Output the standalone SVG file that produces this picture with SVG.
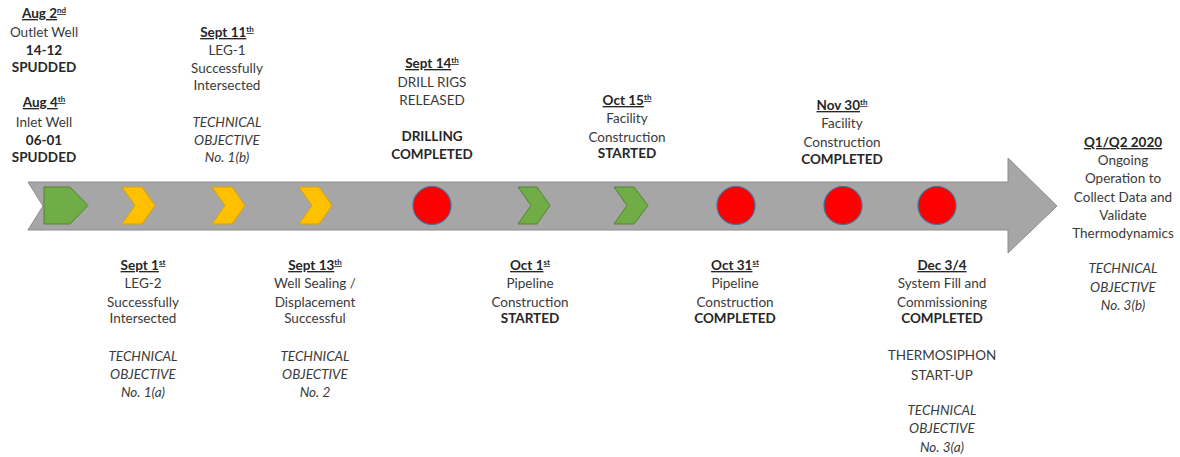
<svg xmlns="http://www.w3.org/2000/svg" width="1180" height="457" viewBox="0 0 1180 457">
<style>
text{font-family:Lato,"Liberation Sans",sans-serif;font-size:13.5px;fill:#3a3a3a;text-anchor:middle}
.b{font-weight:bold;fill:#262626}
.d{font-weight:bold;text-decoration:underline;fill:#262626}
.i{font-style:italic}
.sup{font-size:8px;baseline-shift:super}
.green{fill:#70ad47;stroke:#548235;stroke-width:1}
.yellow{fill:#ffc000;stroke:#d9a300;stroke-width:1}
.red{fill:#ff0000;stroke:#41719c;stroke-width:1.2}
</style>
<rect width="1180" height="457" fill="#ffffff"/>
<g id="connectors">
<polygon points="28,182 1008,182 1008,158 1057,206 1008,253 1008,230 28,230 43,206" fill="#a6a6a6" stroke="#8c8c8c" stroke-width="1"/>
</g>
<g id="aug2">
<polygon class="green" points="44,187 70,187 88,205.5 70,224 44,224"/>
<text x="44" y="18" class="d">Aug 2<tspan class="sup">nd</tspan></text>
<text x="44" y="37">Outlet Well</text>
<text x="44" y="55" class="b">14-12</text>
<text x="44" y="72" class="b">SPUDDED</text>
<text x="44" y="107" class="d">Aug 4<tspan class="sup">th</tspan></text>
<text x="44" y="127">Inlet Well</text>
<text x="44" y="145" class="b">06-01</text>
<text x="44" y="162" class="b">SPUDDED</text>
</g>
<g id="sept1">
<polygon class="yellow" points="122,187 142,187 155,205.5 142,224 122,224 135,205.5"/>
<text x="143" y="270" class="d">Sept 1<tspan class="sup">st</tspan></text>
<text x="143" y="288">LEG-2</text>
<text x="143" y="307">Successfully</text>
<text x="143" y="323">Intersected</text>
<text x="143" y="361" class="i">TECHNICAL</text>
<text x="143" y="379" class="i">OBJECTIVE</text>
<text x="143" y="397" class="i">No. 1(a)</text>
</g>
<g id="sept11">
<polygon class="yellow" points="212,187 232,187 245,205.5 232,224 212,224 225,205.5"/>
<text x="227" y="37" class="d">Sept 11<tspan class="sup">th</tspan></text>
<text x="227" y="55">LEG-1</text>
<text x="227" y="73">Successfully</text>
<text x="227" y="90">Intersected</text>
<text x="227" y="127" class="i">TECHNICAL</text>
<text x="227" y="145" class="i">OBJECTIVE</text>
<text x="227" y="162" class="i">No. 1(b)</text>
</g>
<g id="sept13">
<polygon class="yellow" points="299,187 319,187 332,205.5 319,224 299,224 312,205.5"/>
<text x="315" y="270" class="d">Sept 13<tspan class="sup">th</tspan></text>
<text x="315" y="288">Well Sealing /</text>
<text x="315" y="307">Displacement</text>
<text x="315" y="323">Successful</text>
<text x="315" y="361" class="i">TECHNICAL</text>
<text x="315" y="379" class="i">OBJECTIVE</text>
<text x="315" y="397" class="i">No. 2</text>
</g>
<g id="sept14">
<circle class="red" cx="432" cy="205.5" r="19"/>
<text x="432" y="68" class="d">Sept 14<tspan class="sup">th</tspan></text>
<text x="432" y="87">DRILL RIGS</text>
<text x="432" y="105">RELEASED</text>
<text x="432" y="141" class="b">DRILLING</text>
<text x="432" y="159" class="b">COMPLETED</text>
</g>
<g id="oct1">
<polygon class="green" points="518,187 537,187 550,205.5 537,224 518,224 531,205.5"/>
<text x="530" y="270" class="d">Oct 1<tspan class="sup">st</tspan></text>
<text x="530" y="288">Pipeline</text>
<text x="530" y="307">Construction</text>
<text x="530" y="323" class="b">STARTED</text>
</g>
<g id="oct15">
<polygon class="green" points="614,187 634,187 648,205.5 634,224 614,224 627,205.5"/>
<text x="627" y="105" class="d">Oct 15<tspan class="sup">th</tspan></text>
<text x="627" y="123">Facility</text>
<text x="627" y="142">Construction</text>
<text x="627" y="158" class="b">STARTED</text>
</g>
<g id="oct31">
<circle class="red" cx="736" cy="205.5" r="19"/>
<text x="735" y="270" class="d">Oct 31<tspan class="sup">st</tspan></text>
<text x="735" y="288">Pipeline</text>
<text x="735" y="307">Construction</text>
<text x="735" y="323" class="b">COMPLETED</text>
</g>
<g id="nov30">
<circle class="red" cx="843" cy="205.5" r="19"/>
<text x="842" y="110" class="d">Nov 30<tspan class="sup">th</tspan></text>
<text x="842" y="128">Facility</text>
<text x="842" y="147">Construction</text>
<text x="842" y="164" class="b">COMPLETED</text>
</g>
<g id="dec34">
<circle class="red" cx="937" cy="205.5" r="19"/>
<text x="942" y="270" class="d">Dec 3/4</text>
<text x="942" y="288">System Fill and</text>
<text x="942" y="307">Commissioning</text>
<text x="942" y="323" class="b">COMPLETED</text>
<text x="942" y="360">THERMOSIPHON</text>
<text x="942" y="380">START-UP</text>
<text x="942" y="415" class="i">TECHNICAL</text>
<text x="942" y="433" class="i">OBJECTIVE</text>
<text x="942" y="452" class="i">No. 3(a)</text>
</g>
<g id="q1q2">
<text x="1123" y="147" class="d">Q1/Q2 2020</text>
<text x="1123" y="165">Ongoing</text>
<text x="1123" y="183">Operation to</text>
<text x="1123" y="202">Collect Data and</text>
<text x="1123" y="220">Validate</text>
<text x="1123" y="238">Thermodynamics</text>
<text x="1123" y="273" class="i">TECHNICAL</text>
<text x="1123" y="292" class="i">OBJECTIVE</text>
<text x="1123" y="310" class="i">No. 3(b)</text>
</g>
</svg>
